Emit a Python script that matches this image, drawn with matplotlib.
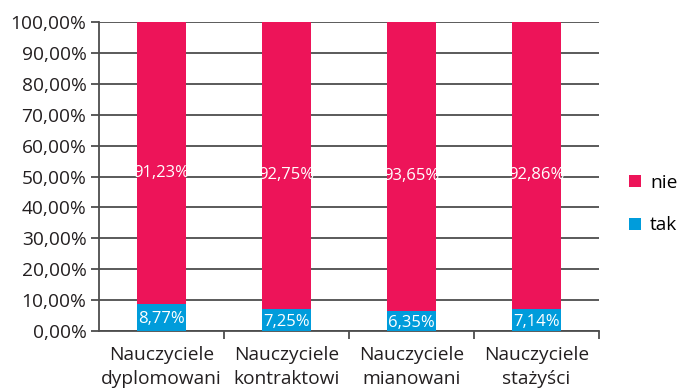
import matplotlib.pyplot as plt
import numpy as np

categories = ["Nauczyciele\ndyplomowani", "Nauczyciele\nkontraktowi",
              "Nauczyciele\nmianowani", "Nauczyciele\nstażyści"]
tak = [8.77, 7.25, 6.35, 7.14]
nie = [91.23, 92.75, 93.65, 92.86]

PINK = "#ED1459"
BLUE = "#009CDB"
GRID = "#4d4d4d"

plt.rcParams['font.family'] = ['Open Sans', 'DejaVu Sans']

fig = plt.figure(figsize=(6.77, 3.92), dpi=100)
ax = fig.add_axes([99 / 677, 1 - 331 / 392, 500 / 677, 309 / 392])

x = np.arange(len(categories))
w = 0.39
ax.bar(x, tak, w, color=BLUE, label="tak", zorder=3)
ax.bar(x, nie, w, bottom=tak, color=PINK, label="nie", zorder=3)

def fmt(v):
    return f"{v:.2f}%".replace(".", ",")

for xi, t, n in zip(x, tak, nie):
    ax.text(xi, t / 2, fmt(t), ha="center", va="center_baseline", color="white",
            fontsize=12, zorder=4)
    ax.text(xi, t + n / 2 - 2.5, fmt(n), ha="center", va="center_baseline", color="white",
            fontsize=12, zorder=4)

ax.set_xlim(-0.5, len(categories) - 0.5)
ax.set_ylim(0, 100)
ax.set_yticks(np.arange(0, 101, 10))
ax.set_yticklabels([fmt(v) for v in range(0, 101, 10)], fontsize=13.8, color="#231f20")
ax.yaxis.grid(True, color=GRID, lw=1.3, zorder=0)

ax.set_xticks(x)
ax.set_xticklabels(categories, fontsize=13.8, color="#231f20", linespacing=1.4)
ax.tick_params(axis="x", length=0, pad=11)
ax.set_xticks(np.arange(0.5, len(categories) - 0.5 + 0.01, 1), minor=True)
ax.tick_params(axis="x", which="minor", length=6, width=1.3, color=GRID, direction="out")
ax.tick_params(axis="y", length=6, width=1.3, color=GRID, pad=3)

for s in ["top", "right"]:
    ax.spines[s].set_visible(False)
ax.spines["left"].set_color(GRID)
ax.spines["left"].set_linewidth(1.3)
ax.spines["bottom"].set_color(GRID)
ax.spines["bottom"].set_linewidth(1.3)

handles, labels = ax.get_legend_handles_labels()
fig.legend(handles[::-1], labels[::-1], loc="center left",
           bbox_to_anchor=(629 / 677, 1 - 204 / 392), frameon=False,
           fontsize=13.8, handlelength=0.6, handleheight=0.6,
           handletextpad=0.5, labelspacing=1.3, borderpad=0, borderaxespad=0)

fig.savefig("out.png", dpi=100)
